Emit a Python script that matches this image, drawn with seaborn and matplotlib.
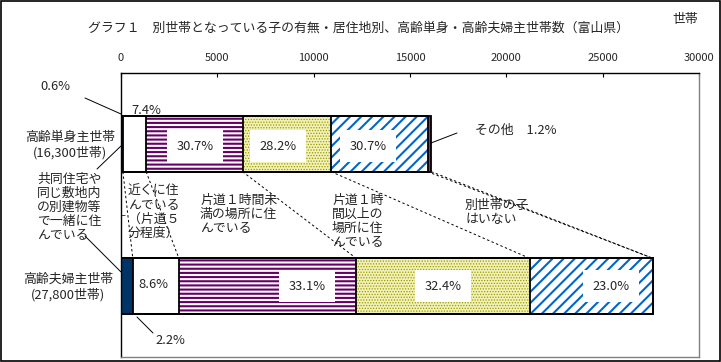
import matplotlib
matplotlib.use("Agg")
import numpy as np
import seaborn as sns
import matplotlib.pyplot as plt
from matplotlib.lines import Line2D
from matplotlib.patches import Rectangle

# データ（世帯数、グラフから読み取り）
groups = ["高齢単身主世帯", "高齢夫婦主世帯"]
group_labels = ["高齢単身主世帯\n(16,300世帯)", "高齢夫婦主世帯\n(27,800世帯)"]
segments = ["共同住宅や同じ敷地内の別建物等で一緒に住んでいる",
            "近くに住んでいる（片道５分程度）",
            "片道１時間未満の場所に住んでいる",
            "片道１時間以上の場所に住んでいる",
            "別世帯の子はいない",
            "その他"]
single = [98, 1206, 5004, 4597, 5004, 196]
couple = [612, 2391, 9202, 9007, 6394, 0]
single_pct = ["0.6%", "7.4%", "30.7%", "28.2%", "30.7%", "1.2%"]
couple_pct = ["2.2%", "8.6%", "33.1%", "32.4%", "23.0%", ""]
xticks = [0, 5000, 10000, 15000, 20000, 25000, 30000]

# 見た目
faces = ["#003366", "white", "white", "#f2f2b8", "white", "#993366"]
hatches = [None, None, "----", "......", "///", None]
hcolors = ["#003366", "white", "#660066", "#999900", "#0066cc", "#993366"]
hlw = [1, 1, 1.5, 0.6, 1.5, 1]

sns.set_style("white")
plt.rcParams["font.family"] = ["Noto Sans CJK JP", "DejaVu Sans"]
plt.rcParams["hatch.linewidth"] = 1.5

W, H = 721, 362
fig = plt.figure(figsize=(W / 100, H / 100), dpi=100)
ax = fig.add_axes([121 / W, (H - 357) / H, 578 / W, 284 / H])


def px(x, y):
    return x / W, 1 - y / H


bw = 0.39
cum = np.cumsum(np.array([single, couple]), axis=1)

# 塗り（右端の累積から順に重ねる）
for i in range(len(segments) - 1, -1, -1):
    n0 = len(ax.patches)
    sns.barplot(x=cum[:, i], y=groups, orient="h", color=faces[i], saturation=1,
                width=bw, errorbar=None, linewidth=0, edgecolor=hcolors[i], ax=ax)
    for p in ax.patches[n0:]:
        p.set_facecolor(faces[i])
        p.set_edgecolor(hcolors[i])
        p.set_linewidth(0)
        if hatches[i]:
            p.set_hatch(hatches[i])
            if hasattr(p, "set_hatch_linewidth"):
                p.set_hatch_linewidth(hlw[i])

# 枠線
for i in range(len(segments)):
    sns.barplot(x=cum[:, i], y=groups, orient="h", fill=False, color="black",
                width=bw, errorbar=None, linewidth=1.3, ax=ax)

# 区切りの点線
for i in range(len(segments)):
    ax.plot([cum[0, i], cum[1, i]], [bw / 2, 1 - bw / 2], color="black",
            lw=0.7, ls=(0, (2.5, 2.5)), zorder=1)

ax.set_xlim(0, 30000)
ax.set_ylim(1.5, -0.5)
ax.set_xlabel("")
ax.set_ylabel("")
ax.xaxis.tick_top()
ax.set_xticks(xticks)
ax.tick_params(axis="x", direction="in", length=3, pad=7, labelsize=8,
               top=True, bottom=False, color="black")
ax.set_yticks([])
ax.set_yticks([-0.5, 0.5, 1.5], minor=True)
ax.tick_params(axis="y", which="minor", direction="in", length=3, left=True)
for s in ["left", "top"]:
    ax.spines[s].set_color("black")
    ax.spines[s].set_linewidth(1)
for s in ["right", "bottom"]:
    ax.spines[s].set_color("#808080")
    ax.spines[s].set_linewidth(1)

fs = 9.3
# タイトル・単位
fig.text(*px(358, 28), "グラフ１　別世帯となっている子の有無・居住地別、高齢単身・高齢夫婦主世帯数（富山県）",
         ha="center", va="center", fontsize=fs)
fig.text(*px(685, 20), "世帯", ha="center", va="center", fontsize=fs)

# 世帯区分
fig.text(*px(70, 145), group_labels[0], ha="center", va="center", fontsize=fs,
         multialignment="center", linespacing=1.15)
fig.text(*px(68, 287), group_labels[1], ha="center", va="center", fontsize=fs,
         multialignment="center", linespacing=1.15)

box = dict(facecolor="white", edgecolor="none", boxstyle="square,pad=0.75")
# 単身
fig.text(*px(55, 87), single_pct[0], ha="center", va="center", fontsize=fs)
fig.text(*px(146, 110), single_pct[1], ha="center", va="center", fontsize=fs)
fig.text(*px(195, 146), single_pct[2], ha="center", va="center", fontsize=fs, bbox=box)
fig.text(*px(278, 146), single_pct[3], ha="center", va="center", fontsize=fs, bbox=box)
fig.text(*px(368, 146), single_pct[4], ha="center", va="center", fontsize=fs, bbox=box)
fig.text(*px(475, 130), "その他　" + single_pct[5], ha="left", va="center", fontsize=fs)
# 夫婦
fig.text(*px(170, 341), couple_pct[0], ha="center", va="center", fontsize=fs)
fig.text(*px(153, 284), couple_pct[1], ha="center", va="center", fontsize=fs)
fig.text(*px(307, 286), couple_pct[2], ha="center", va="center", fontsize=fs, bbox=box)
fig.text(*px(443, 286), couple_pct[3], ha="center", va="center", fontsize=fs, bbox=box)
fig.text(*px(611, 286), couple_pct[4], ha="center", va="center", fontsize=fs, bbox=box)

# 区分の説明
notes = [
    (37, 173, "共同住宅や\n同じ敷地内\nの別建物等\nで一緒に住\nんでいる"),
    (128, 185, "近くに住\nんでいる\n（片道５\n分程度）"),
    (200, 194, "片道１時間未\n満の場所に住\nんでいる"),
    (332, 194, "片道１時\n間以上の\n場所に住\nんでいる"),
    (465, 199, "別世帯の子\nはいない"),
]
for x, y, t in notes:
    fig.text(*px(x, y), t, ha="left", va="top", fontsize=fs, linespacing=1.1)

# 引き出し線
leaders = [
    ((85, 98), (121, 114)),
    ((431, 143), (457, 133)),
    ((137, 317), (153, 333)),
    ((97, 169), (121, 146)),
    ((85, 236), (121, 272)),
]
for a, b in leaders:
    fig.add_artist(Line2D([a[0] / W, b[0] / W], [1 - a[1] / H, 1 - b[1] / H],
                          color="black", lw=0.7))

# 外枠
fig.add_artist(Rectangle((0.6 / W, 0.6 / H), 1 - 1.2 / W, 1 - 1.2 / H,
                         transform=fig.transFigure, fill=False,
                         edgecolor="black", lw=1.2))

fig.savefig("out.png", dpi=100)
